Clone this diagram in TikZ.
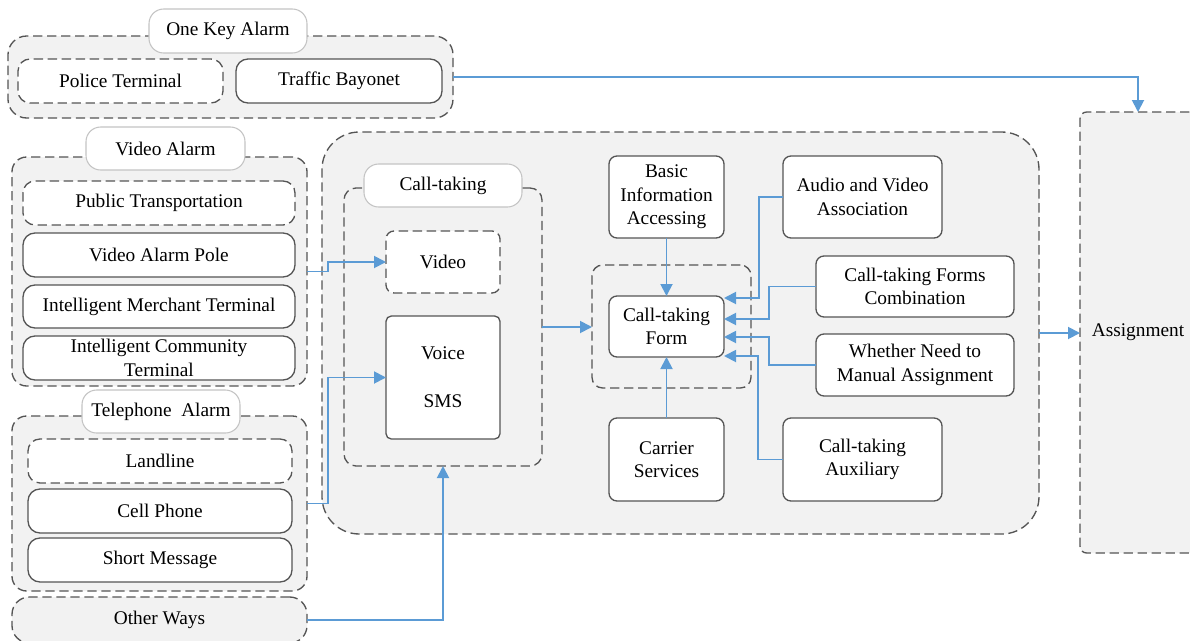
\documentclass[tikz,border=0pt]{standalone}
\usepackage{fontspec}
\setmainfont{Liberation Serif}
\usetikzlibrary{arrows.meta,calc}
\definecolor{panel}{HTML}{F2F2F2}
\definecolor{edge}{HTML}{555555}
\definecolor{tagedge}{HTML}{C4C4C4}
\definecolor{flow}{HTML}{5B9BD5}
\begin{document}
\begin{tikzpicture}[x=0.75pt,y=-0.75pt,
  font=\fontsize{14.5}{17.5}\selectfont,
  every node/.style={inner sep=0pt, outer sep=0pt, align=center},
  sz/.style 2 args={minimum width=#1*0.75pt, minimum height=#2*0.75pt},
  dashline/.style={dash pattern=on 7pt off 3.5pt},
  group/.style={draw=edge, line width=1pt, dashline, fill=panel},
  tag/.style={draw=tagedge, line width=0.8pt, fill=white, rounded corners=11pt},
  item/.style={draw=edge, line width=1pt, fill=white, rounded corners=9pt},
  itemd/.style={item, dashline},
  unit/.style={draw=edge, line width=1pt, fill=white, rounded corners=6pt},
  unitd/.style={unit, dashline},
  flow/.style={draw=flow, line width=1.4pt, -{Triangle[length=9pt,width=9pt]}}]
\clip (0,0) rectangle (1190,640);
\fill[white] (0,0) rectangle (1190,640);

% ---------- call-taking container ----------
\node[group, rounded corners=28pt, sz={717}{402}] (main) at (680.5,333) {};
\node[group, rounded corners=9pt, sz={198}{278}] (ctgrp) at (443,327) {};
\node[tag, sz={158}{43}] (ctlbl) at (443,185.5) {Call-taking};
\node[unitd, sz={114}{62}] (video) at (443,262) {Video};
\node[unit, rounded corners=4pt, sz={114}{123}] (voice) at (443,377.5) {Voice\\[18.5pt]SMS};

\node[group, rounded corners=8pt, sz={159}{123}] (formgrp) at (671.5,326.5) {};
\node[unit, sz={115}{61}] (form) at (666.5,326.5) {Call-taking\\Form};
\node[unit, sz={115}{82}] (basic) at (666.5,197) {Basic\\Information\\Accessing};
\node[unit, sz={115}{83}] (carrier) at (666.5,459.5) {Carrier\\Services};
\node[unit, sz={159}{82}] (audio) at (862.5,197) {Audio and Video\\Association};
\node[unit, sz={198}{61}] (comb) at (915,286.5) {Call-taking Forms\\Combination};
\node[unit, sz={198}{62}] (whether) at (915,365) {Whether Need to\\Manual Assignment};
\node[unit, sz={159}{83}] (aux) at (862.5,459.5) {Call-taking\\Auxiliary};

% ---------- assignment ----------
\node[group, rounded corners=5pt, sz={116}{441}] (assign) at (1138,332.5) {Assignment};

% ---------- one key alarm ----------
\node[group, rounded corners=14pt, sz={445}{82}] (okgrp) at (230.5,77) {};
\node[tag, sz={158}{44}] (oklbl) at (228,31) {One Key Alarm};
\node[itemd, sz={205}{44}] (police) at (120.5,81) {Police Terminal};
\node[item, sz={206}{44}] (traffic) at (339,81) {Traffic Bayonet};

% ---------- video alarm ----------
\node[group, rounded corners=11pt, sz={295}{229}] (vagrp) at (159.5,271.5) {};
\node[tag, sz={159}{43}] (valbl) at (165.5,148.5) {Video Alarm};
\node[itemd, sz={272}{44}] (pubtr) at (159,203) {Public Transportation};
\node[item, sz={272}{44}] (pole) at (159,255) {Video Alarm Pole};
\node[item, sz={272}{43}] (merch) at (159,306.5) {Intelligent Merchant Terminal};
\node[item, sz={272}{44}] (comm) at (159,358) {Intelligent Community\\Terminal};

% ---------- telephone alarm ----------
\node[group, rounded corners=11pt, sz={295}{175}] (tagrp) at (159.5,503.5) {};
\node[tag, sz={158}{43}] (talbl) at (161,411.5) {Telephone\ \ Alarm};
\node[itemd, sz={264}{44}] (land) at (160,461) {Landline};
\node[item, sz={264}{44}] (cell) at (160,511) {Cell Phone};
\node[item, sz={264}{44}] (short) at (160,560) {Short Message};

\node[group, rounded corners=13pt, sz={295}{46}] (other) at (159.5,620) {Other Ways};

% ---------- connectors ----------
\coordinate (jin) at (328,0);
\coordinate (jav) at (759,0);
\coordinate (jmid) at (769,0);
\coordinate (jaux) at (758,0);

\draw[flow] (okgrp.east) -| (assign.north);
\draw[flow] (vagrp.east) -- (vagrp.east -| jin) |- (video.west);
\draw[flow] (tagrp.east) -- (tagrp.east -| jin) |- (voice.west);
\draw[flow] (other.east) -| (ctgrp.south);
\draw[flow] (ctgrp.east) -- (ctgrp.east -| formgrp.west);
\draw[flow] (basic.south) -- (form.north);
\draw[flow] (carrier.north) -- (form.south);
\draw[flow] (audio.west) -- (audio.west -| jav) |- ($(form.east)+(0,-28.5)$);
\draw[flow] (comb.west) -- (comb.west -| jmid) |- ($(form.east)+(0,-7.5)$);
\draw[flow] (whether.west) -- (whether.west -| jmid) |- ($(form.east)+(0,10.5)$);
\draw[flow] (aux.west) -- (aux.west -| jaux) |- ($(form.east)+(0,29.5)$);
\draw[flow] (main.east) -- (main.east -| assign.west);
\end{tikzpicture}
\end{document}
